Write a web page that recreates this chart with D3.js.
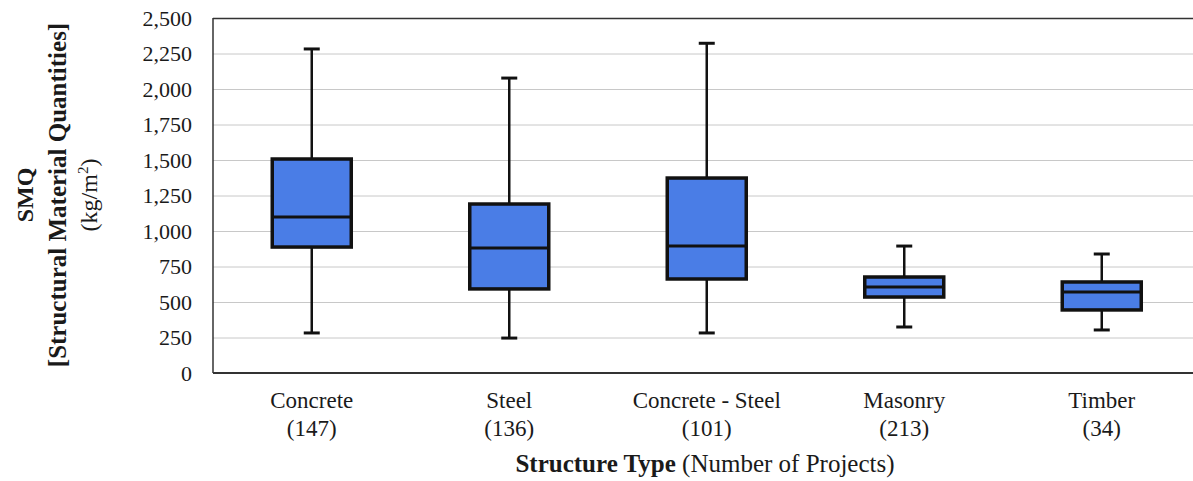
<!DOCTYPE html>
<html>
<head>
<meta charset="utf-8">
<script src="https://cdn.jsdelivr.net/npm/d3@7"></script>
<style>
  body { margin: 0; background: #fff; }
  text { font-family: "Liberation Serif", "Times New Roman", serif; fill: #1a1a1a; }
</style>
</head>
<body>
<svg id="chart" width="1193" height="481"></svg>
<script>
// data
var categories = ["Concrete", "Steel", "Concrete - Steel", "Masonry", "Timber"];
var projects = [147, 136, 101, 213, 34];
var whiskerLow = [282, 246, 282, 324, 303];
var q1 = [887, 592, 662, 535, 444];
var median = [1099, 880, 894, 606, 570];
var q3 = [1507, 1190, 1373, 676, 641];
var whiskerHigh = [2282, 2077, 2322, 894, 838];
var yTicks = [0, 250, 500, 750, 1000, 1250, 1500, 1750, 2000, 2250, 2500];

var svg = d3.select("#chart");
var plotLeft = 213, plotTop = 18, plotBottom = 373, band = 197.5;

var x = d3.scaleBand().domain(categories).range([plotLeft, plotLeft + band * categories.length]);
var y = d3.scaleLinear().domain([0, 2500]).range([plotBottom, plotTop]);

var rows = categories.map(function(c, i) {
    return {cat: c, n: projects[i], lo: whiskerLow[i], q1: q1[i], med: median[i], q3: q3[i], hi: whiskerHigh[i]};
});

// grid lines
svg.append("g")
    .attr("transform", "translate(" + plotLeft + ",0)")
    .call(d3.axisLeft(y).tickValues(yTicks).tickSize(-(1193 - plotLeft)).tickFormat(""))
    .call(function(g) { g.select(".domain").remove(); })
    .selectAll("line")
    .attr("stroke", function(d) { return d === 2500 ? "#333" : "#c8c8c8"; })
    .attr("stroke-width", function(d) { return d === 2500 ? 1.5 : 1; });

// y tick labels
svg.append("g")
    .attr("transform", "translate(" + plotLeft + ",0)")
    .call(d3.axisLeft(y).tickValues(yTicks).tickSize(0).tickPadding(21).tickFormat(d3.format(",")))
    .call(function(g) { g.select(".domain").remove(); })
    .selectAll("text")
    .attr("font-size", 22)
    .style("font-family", "'Liberation Serif', serif")
    .attr("fill", "#1a1a1a");

// frame: left + bottom
svg.append("line").attr("x1", plotLeft).attr("x2", plotLeft).attr("y1", plotTop).attr("y2", plotBottom)
    .attr("stroke", "#333").attr("stroke-width", 1.5);
svg.append("line").attr("x1", plotLeft).attr("x2", 1193).attr("y1", plotBottom).attr("y2", plotBottom)
    .attr("stroke", "#333").attr("stroke-width", 2);

var bw = x.bandwidth() * 0.4, cap = 16;
var box = svg.selectAll(".box").data(rows).enter().append("g").attr("class", "box")
    .attr("transform", function(d) { return "translate(" + (x(d.cat) + x.bandwidth() / 2) + ",0)"; });

box.append("line")
    .attr("y1", function(d) { return y(d.lo); })
    .attr("y2", function(d) { return y(d.hi); })
    .attr("stroke", "#111").attr("stroke-width", 2.5);

box.selectAll(".cap").data(function(d) { return [d.lo, d.hi]; }).enter().append("line")
    .attr("class", "cap")
    .attr("x1", -cap / 2).attr("x2", cap / 2)
    .attr("y1", function(v) { return y(v); })
    .attr("y2", function(v) { return y(v); })
    .attr("stroke", "#111").attr("stroke-width", 3);

box.append("rect")
    .attr("x", -bw / 2).attr("width", bw)
    .attr("y", function(d) { return y(d.q3); })
    .attr("height", function(d) { return y(d.q1) - y(d.q3); })
    .attr("fill", "#4a7de6")
    .attr("stroke", "#111").attr("stroke-width", 3.5);

box.append("line")
    .attr("x1", -bw / 2).attr("x2", bw / 2)
    .attr("y1", function(d) { return y(d.med); })
    .attr("y2", function(d) { return y(d.med); })
    .attr("stroke", "#111").attr("stroke-width", 3);

// category labels
var lab = svg.selectAll(".cat").data(rows).enter().append("text").attr("class", "cat")
    .attr("text-anchor", "middle")
    .attr("font-size", 23)
    .attr("x", function(d) { return x(d.cat) + x.bandwidth() / 2; });
lab.append("tspan").attr("y", 408).text(function(d) { return d.cat; });
lab.append("tspan").attr("y", 436)
    .attr("x", function(d) { return x(d.cat) + x.bandwidth() / 2; })
    .text(function(d) { return "(" + d.n + ")"; });

// x title
var xt = svg.append("text").attr("x", 705).attr("y", 472).attr("text-anchor", "middle").attr("font-size", 25);
xt.append("tspan").attr("font-weight", "bold").text("Structure Type");
xt.append("tspan").text(" (Number of Projects)");

// y title
var yt = svg.append("g").attr("transform", "translate(0,195) rotate(-90)");
yt.append("text").attr("x", 0).attr("y", 33).attr("text-anchor", "middle")
    .attr("font-size", 24).attr("font-weight", "bold").text("SMQ");
yt.append("text").attr("x", 0).attr("y", 66).attr("text-anchor", "middle")
    .attr("font-size", 25).attr("font-weight", "bold").text("[Structural Material Quantities]");
var u = yt.append("text").attr("x", 0).attr("y", 97).attr("text-anchor", "middle").attr("font-size", 24);
u.append("tspan").text("(kg/m");
u.append("tspan").attr("font-size", 15).attr("dy", -9).text("2");
u.append("tspan").attr("dy", 9).text(")");
</script>
</body>
</html>
